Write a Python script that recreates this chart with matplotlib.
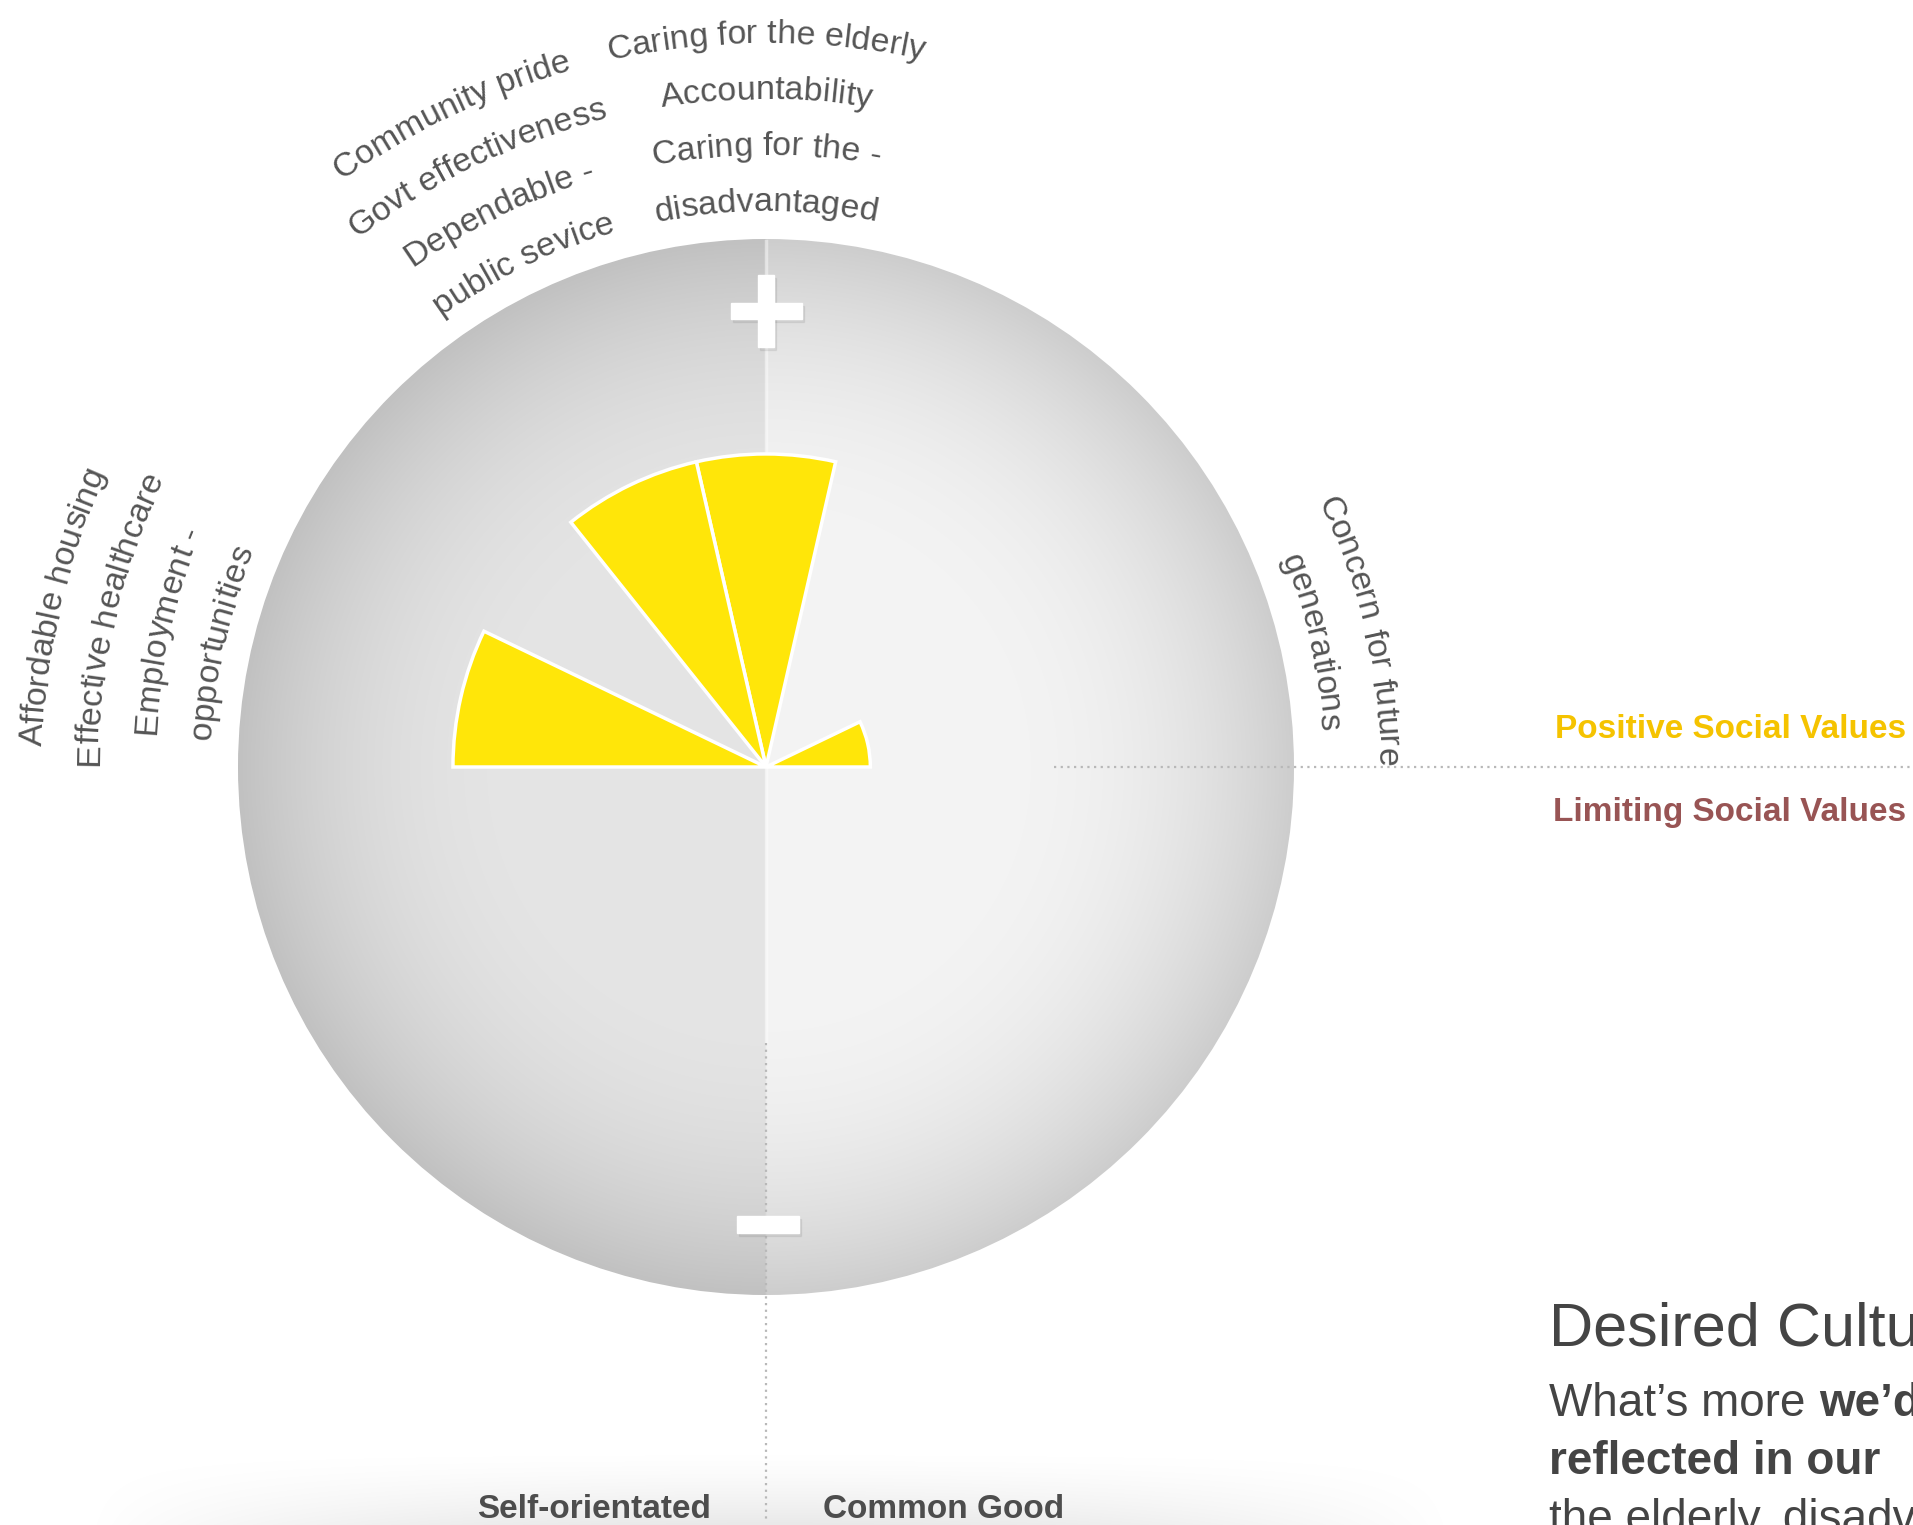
import numpy as np
import matplotlib
matplotlib.use("Agg")
from matplotlib import pyplot as plt
from matplotlib.patches import Circle, Rectangle
from matplotlib.font_manager import FontProperties, findfont, get_font

# --- data ---
n_sectors = 7  # upper half = positive values, lower half = limiting values
positive_values = [1, 0, 0, 3, 3, 0, 3]
limiting_values = [0, 0, 0, 0, 0, 0, 0]
sector_labels = [
    ["Concern for future", "generations"],
    [],
    [],
    ["Caring for the elderly", "Accountability", "Caring for the -", "disadvantaged"],
    ["Community pride", "Govt effectiveness", "Dependable -", "public sevice"],
    [],
    ["Affordable housing", "Effective healthcare", "Employment -", "opportunities"],
]
axis_top = "Positive Social Values"
axis_bottom = "Limiting Social Values"
side_left = "Self-orientated"
side_right = "Common Good"

W, H = 1913, 1525
CX, CY, R = 766, 767, 528
RMAX = 5.06

FONT = "Liberation Sans"
LABEL_SIZE = 24.5
GREY_TEXT = "#555555"

fig = plt.figure(figsize=(W / 100, H / 100), dpi=100)
ax = fig.add_axes([0, 0, 1, 1])
ax.set_xlim(0, W)
ax.set_ylim(H, 0)
ax.axis("off")

# --- sphere background ---
n = 600
yy, xx = np.mgrid[-1:1:n * 1j, -1:1:n * 1j]
rr = np.sqrt(xx ** 2 + yy ** 2)
t = np.clip((rr - 0.42) / 0.58, 0, 1)
v = 0.955 - 0.15 * t ** 2.2
v = np.where(xx < 0, v * 0.94, v)
img = np.dstack([v, v, v])
im = ax.imshow(img, extent=(CX - R, CX + R, CY + R, CY - R), interpolation="bilinear", zorder=1)
im.set_clip_path(Circle((CX, CY), R, transform=ax.transData))

# floor shadow
fy, fx = np.mgrid[0:1:80j, -1:1:400j]
fa = np.clip(1 - np.abs(fx) ** 2, 0, 1) * fy ** 1.5 * 0.09
floor = np.zeros((80, 400, 4))
floor[..., 3] = fa
ax.imshow(floor, extent=(80, 1460, H, 1445), interpolation="bilinear", zorder=0.5)

# light spine on upper part of the centre line
ax.plot([CX, CX], [CY - R + 2, 1043], color="white", lw=2.5, alpha=0.45, zorder=2)

# dotted axes
ax.plot([1054, W], [CY, CY], color="#b8b8b8", lw=1.6, ls=(0, (1, 2)), zorder=3)
ax.plot([CX, CX], [1043, 1520], color="#b8b8b8", lw=1.6, ls=(0, (1, 2)), zorder=3)

# plus / minus signs
signs = [(731, 303, 71, 16), (758, 275, 16, 72), (737, 1216, 62, 17)]
for (x0, y0, w, h) in signs:
    ax.add_patch(Rectangle((x0 + 2, y0 + 3), w, h, color="#000000", alpha=0.06, zorder=3))
for (x0, y0, w, h) in signs:
    ax.add_patch(Rectangle((x0, y0), w, h, color="white", zorder=4))

# --- polar bars ---
pax = fig.add_axes([(CX - R) / W, (H - CY - R) / H, 2 * R / W, 2 * R / H], projection="polar")
pax.set_facecolor("none")
pax.axis("off")
pax.set_ylim(0, RMAX)
width = np.pi / n_sectors
theta_pos = [(i + 0.5) * width for i in range(n_sectors)]
theta_neg = [np.pi + (i + 0.5) * width for i in range(n_sectors)]
pax.bar(theta_pos, positive_values, width=width, color="#ffe609", edgecolor="white", linewidth=2.5, zorder=5)
pax.bar(theta_neg, limiting_values, width=width, color="#9b5252", edgecolor="white", linewidth=2.5, zorder=5)

# --- curved labels ---
fp = FontProperties(family=FONT, size=LABEL_SIZE)
ft = get_font(findfont(fp))
ft.set_size(LABEL_SIZE, 100)


def advances(s):
    return [ft.load_char(ord(c)).linearHoriAdvance / 65536 for c in s]


def curved_text(s, theta_mid, r):
    adv = advances(s)
    total = sum(adv)
    pos = 0
    for c, a in zip(s, adv):
        off = pos + a / 2 - total / 2
        pos += a
        if c == " ":
            continue
        th = theta_mid - off / r
        x = CX + r * np.cos(th)
        y = CY - r * np.sin(th)
        ax.text(x, y, c, fontsize=LABEL_SIZE, family=FONT, color=GREY_TEXT,
                rotation=np.degrees(th) - 90, rotation_mode="anchor",
                ha="center", va="baseline", zorder=6)


R_INNER, LINE_GAP = 556, 56
for i, lines in enumerate(sector_labels):
    th_mid = theta_pos[i]
    for j, line in enumerate(lines):
        curved_text(line, th_mid, R_INNER + (len(lines) - 1 - j) * LINE_GAP)

# --- axis captions ---
ax.text(1906, 730, axis_top, ha="right", va="center", fontsize=24, family=FONT,
        weight="bold", color="#f5c300")
ax.text(1906, 812, axis_bottom, ha="right", va="center", fontsize=24, family=FONT,
        weight="bold", color="#985454")
ax.text(711, 1518, side_left, ha="right", va="baseline", fontsize=24, family=FONT,
        weight="bold", color="#4d4d4d")
ax.text(823, 1518, side_right, ha="left", va="baseline", fontsize=24, family=FONT,
        weight="bold", color="#4d4d4d")

# --- side text (cut by the page edge, as in the source page) ---
ax.text(1549, 1346, "Desired Culture", ha="left", va="baseline", fontsize=44, family=FONT,
        color="#444444")
PARA = 33
lead = "What\u2019s more "
lead_w = sum(ft.load_char(ord(c)).linearHoriAdvance / 65536 for c in lead) * PARA / LABEL_SIZE
ax.text(1549, 1416, lead, ha="left", va="baseline", fontsize=PARA, family=FONT,
        color="#444444")
ax.text(1549 + lead_w, 1416, "we\u2019d", ha="left", va="baseline", fontsize=PARA,
        family=FONT, weight="bold", color="#444444")
ax.text(1549, 1474, "reflected in our", ha="left", va="baseline", fontsize=PARA, family=FONT,
        weight="bold", color="#444444")
ax.text(1549, 1532, "the elderly, disadvantaged", ha="left", va="baseline", fontsize=PARA,
        family=FONT, color="#444444")

fig.savefig("out.png", dpi=100)
